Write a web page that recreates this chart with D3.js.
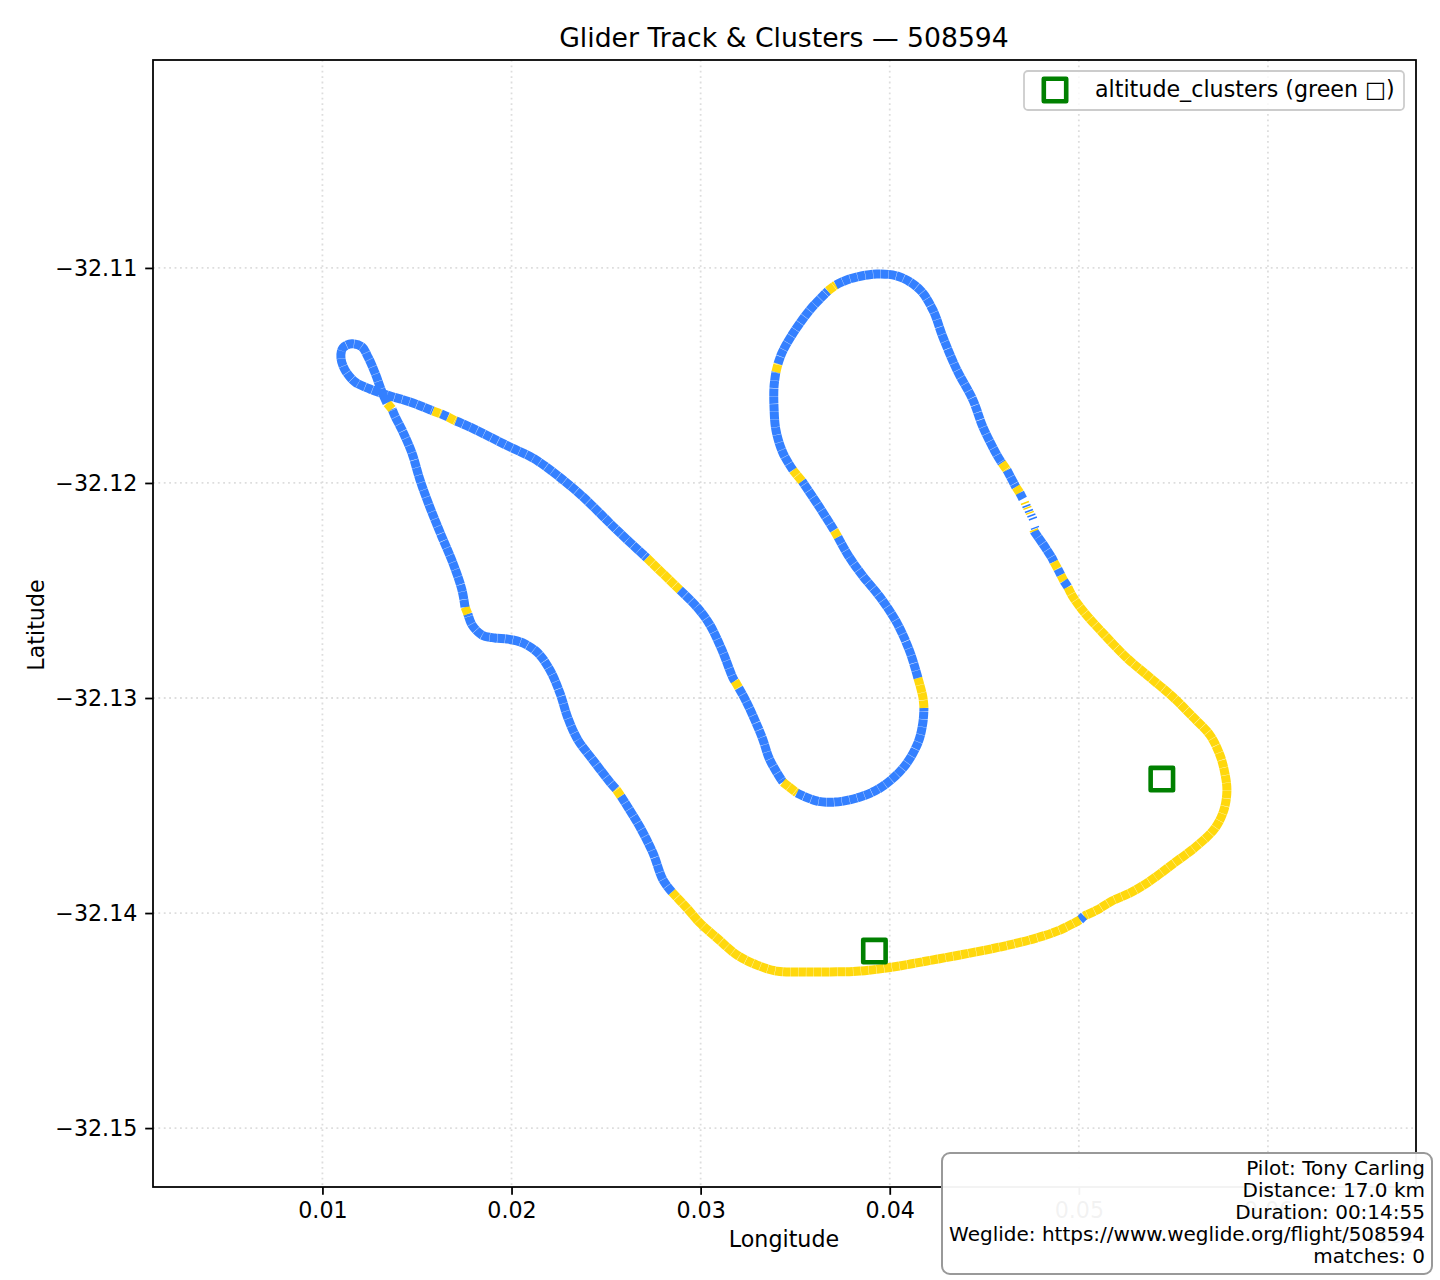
<!DOCTYPE html>
<html>
<head>
<meta charset="utf-8">
<script src="https://cdn.jsdelivr.net/npm/d3@7"></script>
<style>
  html, body { margin: 0; padding: 0; background: #fff; }
  text { font-family: "DejaVu Sans", sans-serif; fill: #000; }
</style>
</head>
<body>
<svg id="mainsvg" width="1440" height="1280"></svg>
<script>
const xTicks = [0.01, 0.02, 0.03, 0.04, 0.05, 0.06];
const yTicks = [-32.11, -32.12, -32.13, -32.14, -32.15];
const xDomain = [0.00104, 0.06783];
const yDomain = [-32.15274, -32.10033];

// track, split where the colour changes; each run joins the first point of the next
const runPhase = ['B','Y','B','Y','B','Y','B','Y','B','Y','B','Y','B','Y','B','Y','B','Y','B','Y','B','Y','B','Y','B','Y','B','Y','B','Y','B','Y','B','Y','B','Y','B','Y','B'];
const lonRuns = [
  [0.04762, 0.04784, 0.04821, 0.04858],
  [0.04868],
  [0.04889],
  [0.04905],
  [0.04921],
  [0.04942, 0.04969, 0.05032, 0.05127, 0.05254, 0.05360, 0.05497, 0.05603, 0.05693, 0.05746, 0.05772, 0.05783, 0.05767, 0.05720, 0.05624, 0.05497, 0.05376, 0.05270, 0.05175, 0.05096],
  [0.05027],
  [0.05006, 0.04900, 0.04757, 0.04583, 0.04371, 0.04197, 0.04017, 0.03842, 0.03668, 0.03525, 0.03403, 0.03298, 0.03192, 0.03086, 0.02996, 0.02927],
  [0.02848, 0.02801, 0.02748, 0.02679, 0.02615],
  [0.02578],
  [0.02552, 0.02520, 0.02430, 0.02351, 0.02298, 0.02256, 0.02203, 0.02140, 0.02060, 0.01981, 0.01912, 0.01843, 0.01791],
  [0.01769],
  [0.01754, 0.01738, 0.01690, 0.01632, 0.01568, 0.01516, 0.01473, 0.01426, 0.01383],
  [0.01368],
  [0.01341, 0.01315, 0.01278, 0.01241, 0.01209, 0.01156, 0.01108, 0.01098, 0.01119, 0.01172, 0.01251, 0.01341, 0.01463],
  [0.01584],
  [0.01627],
  [0.01664],
  [0.01706, 0.01780, 0.01992, 0.02113, 0.02240, 0.02378, 0.02557],
  [0.02716],
  [0.02890, 0.02980, 0.03049, 0.03113, 0.03171],
  [0.03181],
  [0.03202, 0.03245, 0.03324, 0.03366],
  [0.03435],
  [0.03509, 0.03615, 0.03710, 0.03826, 0.03948, 0.04070, 0.04149, 0.04175],
  [0.04181, 0.04175],
  [0.04149, 0.04107, 0.04038, 0.03948, 0.03858, 0.03779],
  [0.03726],
  [0.03705, 0.03631],
  [0.03536],
  [0.03488, 0.03435, 0.03398, 0.03388, 0.03388],
  [0.03398],
  [0.03409, 0.03430, 0.03483, 0.03578, 0.03647],
  [0.03673],
  [0.03715, 0.03789, 0.03932, 0.04054, 0.04160, 0.04228, 0.04281, 0.04355, 0.04440, 0.04493, 0.04567],
  [0.04593],
  [0.04620],
  [0.04667],
  [0.04688, 0.04704],
];
const latRuns = [
  [-32.12223, -32.12251, -32.12298, -32.12349],
  [-32.12367],
  [-32.12400],
  [-32.12428],
  [-32.12456],
  [-32.12484, -32.12530, -32.12605, -32.12698, -32.12814, -32.12893, -32.12995, -32.13088, -32.13172, -32.13265, -32.13349, -32.13432, -32.13521, -32.13605, -32.13688, -32.13772, -32.13851, -32.13907, -32.13944, -32.13986],
  [-32.14014],
  [-32.14032, -32.14079, -32.14121, -32.14158, -32.14195, -32.14223, -32.14251, -32.14270, -32.14274, -32.14274, -32.14270, -32.14242, -32.14195, -32.14116, -32.14046, -32.13977],
  [-32.13902, -32.13846, -32.13721, -32.13600, -32.13507],
  [-32.13456],
  [-32.13423, -32.13391, -32.13288, -32.13195, -32.13093, -32.12977, -32.12870, -32.12791, -32.12744, -32.12726, -32.12721, -32.12707, -32.12660],
  [-32.12609],
  [-32.12577, -32.12498, -32.12372, -32.12251, -32.12112, -32.11986, -32.11860, -32.11763, -32.11688],
  [-32.11656],
  [-32.11628, -32.11577, -32.11488, -32.11414, -32.11367, -32.11353, -32.11372, -32.11419, -32.11474, -32.11530, -32.11563, -32.11591, -32.11623],
  [-32.11665],
  [-32.11679],
  [-32.11693],
  [-32.11712, -32.11740, -32.11833, -32.11884, -32.11963, -32.12065, -32.12219],
  [-32.12349],
  [-32.12498, -32.12577, -32.12660, -32.12777, -32.12907],
  [-32.12921],
  [-32.12953, -32.13023, -32.13181, -32.13288],
  [-32.13391],
  [-32.13442, -32.13479, -32.13484, -32.13465, -32.13419, -32.13326, -32.13209, -32.13116],
  [-32.13046, -32.12995],
  [-32.12907, -32.12786, -32.12651, -32.12530, -32.12433, -32.12335],
  [-32.12251],
  [-32.12219, -32.12116],
  [-32.11991],
  [-32.11940, -32.11860, -32.11753, -32.11646, -32.11553],
  [-32.11484],
  [-32.11446, -32.11395, -32.11312, -32.11195, -32.11130],
  [-32.11107],
  [-32.11079, -32.11051, -32.11028, -32.11042, -32.11102, -32.11195, -32.11321, -32.11474, -32.11614, -32.11740, -32.11870],
  [-32.11907],
  [-32.11940],
  [-32.12019],
  [-32.12046, -32.12074],
];
// short thin pieces around the gap near the top of the descent
const thinLon = [0.04715, 0.04723, 0.04728, 0.04736, 0.04741, 0.04749, 0.04757, 0.04768, 0.04762];
const thinLat = [-32.12093, -32.12107, -32.12116, -32.12130, -32.12139, -32.12151, -32.12165, -32.12209, -32.12221];
const thinPhase = ['Y', 'B', 'Y', 'B', 'Y', 'B', 'B', 'B', 'Y'];

const clusterLon = [0.03919, 0.05439];
const clusterLat = [-32.14177, -32.13377];

const titleText = 'Glider Track & Clusters — 508594';
const legendText = 'altitude_clusters (green □)';
const infoLines = ['Pilot: Tony Carling', 'Distance: 17.0 km', 'Duration: 00:14:55', 'Weglide: https://www.weglide.org/flight/508594', 'matches: 0'];

const phaseColor = { B: '#2979ff', Y: '#ffd600' };

const svg = d3.select('#mainsvg');
const margin = { top: 60, right: 24, bottom: 93, left: 153 };
const plotWidth = +svg.attr('width') - margin.left - margin.right;
const plotHeight = +svg.attr('height') - margin.top - margin.bottom;

const xScale = d3.scaleLinear().domain(xDomain).range([0, plotWidth]);
const yScale = d3.scaleLinear().domain(yDomain).range([plotHeight, 0]);

const g = svg.append('g').attr('transform', `translate(${margin.left}, ${margin.top})`);

// grid
g.append('g').selectAll('line').data(xTicks).join('line')
  .attr('x1', d => xScale(d)).attr('x2', d => xScale(d))
  .attr('y1', 0).attr('y2', plotHeight);
g.append('g').selectAll('line').data(yTicks).join('line')
  .attr('x1', 0).attr('x2', plotWidth)
  .attr('y1', d => yScale(d)).attr('y2', d => yScale(d));
g.selectAll('line')
  .attr('stroke', '#dddddd')
  .attr('stroke-width', 1.78)
  .attr('stroke-dasharray', '1.8 3.6');

// track
const line = d3.line()
  .x(d => xScale(d[0]))
  .y(d => yScale(d[1]))
  .curve(d3.curveCatmullRom.alpha(0.5));

runPhase.forEach((phase, i) => {
  const pts = lonRuns[i].map((lon, j) => [lon, latRuns[i][j]]);
  if (i < runPhase.length - 1) pts.push([lonRuns[i + 1][0], latRuns[i + 1][0]]);
  g.append('path')
    .attr('d', line(pts))
    .attr('fill', 'none')
    .attr('stroke', phaseColor[phase])
    .attr('stroke-opacity', 0.95)
    .attr('stroke-width', 9)
    .attr('stroke-dasharray', '7.5 0.3');
});

g.append('g').selectAll('line').data(thinLon).join('line')
  .attr('x1', d => xScale(d) - 4)
  .attr('x2', d => xScale(d) + 4)
  .attr('y1', (d, i) => yScale(thinLat[i]) + 1.5)
  .attr('y2', (d, i) => yScale(thinLat[i]) - 1.5)
  .attr('stroke', (d, i) => phaseColor[thinPhase[i]])
  .attr('stroke-width', 1.5);

// clusters
const square = d3.symbol().type(d3.symbolSquare).size(22.4 * 22.4);
const styleSquare = sel => sel
  .attr('d', square())
  .attr('fill', 'none')
  .attr('stroke', '#008000')
  .attr('stroke-width', 4.6)
  .attr('stroke-linejoin', 'round');
g.append('g').selectAll('path').data(clusterLon).join('path')
  .attr('transform', (d, i) => `translate(${xScale(d)}, ${yScale(clusterLat[i])})`)
  .call(styleSquare);

// axes
const xAxis = d3.axisBottom(xScale).tickValues(xTicks).tickFormat(d3.format('.2f')).tickSize(7.8).tickPadding(7.8);
const yAxis = d3.axisLeft(yScale).tickValues(yTicks)
  .tickFormat(d => d3.format('.2f')(d).replace('-', '−')).tickSize(7.8).tickPadding(7.8);
const xG = g.append('g').attr('transform', `translate(0, ${plotHeight})`).call(xAxis);
const yG = g.append('g').call(yAxis);
[xG, yG].forEach(a => {
  a.select('.domain').remove();
  a.selectAll('.tick line').attr('stroke', '#000').attr('stroke-width', 1.78);
  a.selectAll('text').attr('font-size', 22.2).attr('font-family', '"DejaVu Sans"').attr('fill', '#000');
});
g.append('rect')
  .attr('width', plotWidth).attr('height', plotHeight)
  .attr('fill', 'none').attr('stroke', '#000').attr('stroke-width', 1.78);

// axis offset, sits under the info box
svg.append('text').text('+1.48e2')
  .attr('x', 1414).attr('y', 1243).attr('text-anchor', 'end').attr('font-size', 20);

// labels
svg.append('text').text(titleText)
  .attr('x', 784).attr('y', 47).attr('text-anchor', 'middle').attr('font-size', 26.67);
svg.append('text').text('Longitude')
  .attr('x', 784).attr('y', 1247).attr('text-anchor', 'middle').attr('font-size', 22.2);
svg.append('text').text('Latitude')
  .attr('transform', 'translate(44, 625) rotate(-90)').attr('text-anchor', 'middle').attr('font-size', 22.2);

// legend
svg.append('rect')
  .attr('x', 1024).attr('y', 71).attr('width', 380).attr('height', 39).attr('rx', 4)
  .attr('fill', '#fff').attr('fill-opacity', 0.8).attr('stroke', '#cccccc').attr('stroke-width', 1.78);
svg.append('path').attr('transform', 'translate(1055, 90)').call(styleSquare);
svg.append('text').text(legendText)
  .attr('x', 1095).attr('y', 96.5).attr('font-size', 22.2);

// info box
svg.append('rect')
  .attr('x', 942).attr('y', 1153).attr('width', 490).attr('height', 121).attr('rx', 8)
  .attr('fill', '#fff').attr('fill-opacity', 0.95).attr('stroke', '#999999').attr('stroke-width', 2);
svg.append('g').selectAll('text').data(infoLines).join('text')
  .text(d => d)
  .attr('x', 1425)
  .attr('y', (d, i) => 1175 + i * 22)
  .attr('text-anchor', 'end')
  .attr('font-size', 20);
</script>
</body>
</html>
